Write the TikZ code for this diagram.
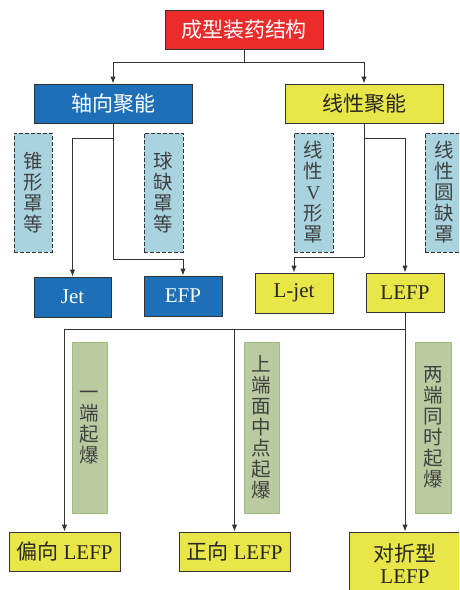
\documentclass[tikz,border=0pt]{standalone}
\usepackage{fontspec}
\setmainfont{Liberation Serif}
\newfontfamily\cjk{Noto Sans CJK SC}
\usetikzlibrary{arrows.meta}
\definecolor{cred}{HTML}{EC2B2B}
\definecolor{cblue}{HTML}{1D6FB8}
\definecolor{cyel}{HTML}{E9E64A}
\definecolor{clb}{HTML}{A9D4DF}
\definecolor{cgr}{HTML}{BBCBA0}
\definecolor{cgrb}{HTML}{9DBF7C}
\definecolor{cline}{HTML}{333333}
\tikzset{
  bx/.style={draw=cline, line width=1pt, inner sep=0pt, align=center,
    font=\fontsize{21}{22}\selectfont},
  redbox/.style={bx, fill=cred, text=white},
  bluebox/.style={bx, fill=cblue, text=white},
  yelbox/.style={bx, fill=cyel, text=black!85},
  dashbox/.style={draw=cline, line width=1pt, dash pattern=on 4pt off 2pt,
    fill=clb, inner sep=0pt, align=center, text=black!75,
    font=\fontsize{19.5}{21}\selectfont, minimum height=119pt},
  grbox/.style={draw=cgrb, line width=1pt, fill=cgr, inner sep=0pt,
    align=center, text=black!75, font=\fontsize{19.5}{21}\selectfont,
    minimum height=171pt},
  arr/.style={draw=cline, line width=1pt, -{Latex[length=7pt,width=5.5pt]}},
  ln/.style={draw=cline, line width=1pt}
}
\begin{document}
\begin{tikzpicture}[x=1pt,y=-1pt]
\useasboundingbox (0,0) rectangle (459,590);
\clip (0,0) rectangle (459,590);
% top level
\node[redbox, minimum width=158pt, minimum height=39pt] (top) at (244,29.5) {\cjk 成型装药结构};
\node[bluebox, minimum width=158pt, minimum height=39pt] (axial) at (113,103.5) {\cjk 轴向聚能};
\node[yelbox, minimum width=158pt, minimum height=39pt] (linear) at (364,103.5) {\cjk 线性聚能};
% dashed liner boxes
\node[dashbox, minimum width=38pt] (d1) at (33,192.5) {\cjk 锥\\\cjk 形\\\cjk 罩\\\cjk 等};
\node[dashbox, minimum width=39pt] (d2) at (163.5,192.5) {\cjk 球\\\cjk 缺\\\cjk 罩\\\cjk 等};
\node[dashbox, minimum width=39pt] (d3) at (313.5,192.5) {\cjk 线\\\cjk 性\\V\\\cjk 形\\\cjk 罩};
\node[dashbox, minimum width=39pt] (d4) at (444.5,192.5) {\cjk 线\\\cjk 性\\\cjk 圆\\\cjk 缺\\\cjk 罩};
% second level results
\node[bluebox, minimum width=77pt, minimum height=40pt] (jet) at (72.5,297) {Jet};
\node[bluebox, minimum width=78pt, minimum height=40pt] (efp) at (183,296) {EFP};
\node[yelbox, minimum width=78pt, minimum height=40pt] (ljet) at (294,293) {L-jet};
\node[yelbox, minimum width=78pt, minimum height=39pt] (lefp) at (405,292.5) {LEFP};
% green initiation boxes
\node[grbox, minimum width=35pt] (g1) at (89.5,427.5) {\cjk 一\\\cjk 端\\\cjk 起\\\cjk 爆};
\node[grbox, minimum width=35pt] (g2) at (261.5,427.5) {\cjk 上\\\cjk 端\\\cjk 面\\\cjk 中\\\cjk 点\\\cjk 起\\\cjk 爆};
\node[grbox, minimum width=36pt] (g3) at (433,427.5) {\cjk 两\\\cjk 端\\\cjk 同\\\cjk 时\\\cjk 起\\\cjk 爆};
% bottom boxes
\node[yelbox, minimum width=111pt, minimum height=39pt] (b1) at (64.5,551.5) {{\cjk 偏向} LEFP};
\node[yelbox, minimum width=111pt, minimum height=39pt] (b2) at (234.5,551.5) {{\cjk 正向} LEFP};
\node[yelbox, minimum width=112pt, minimum height=64pt] (b3) at (405,564) {{\cjk 对折型}\\LEFP};
% connectors
\coordinate (j1) at (244,62);
\draw[ln] (top.south) -- (j1);
\draw[arr] (j1) -| (axial.north);
\draw[arr] (j1) -| (linear.north);
\coordinate (j2) at (113,138);
\coordinate (j3) at (113,259);
\draw[ln] (axial.south) -- (j3);
\draw[arr] (j2) -| (jet.north);
\draw[arr] (j3) -| (efp.north);
\coordinate (j4) at (364,138);
\coordinate (j5) at (364,257);
\draw[ln] (linear.south) -- (j5);
\draw[arr] (j4) -| (lefp.north);
\draw[arr] (j5) -| (ljet.north);
\coordinate (j6) at (405,329);
\draw[ln] (lefp.south) -- (j6);
\draw[arr] (j6) -| (b1.north);
\draw[arr] (j6) -| (b2.north);
\draw[arr] (j6) -- (b3.north);
\end{tikzpicture}
\end{document}
